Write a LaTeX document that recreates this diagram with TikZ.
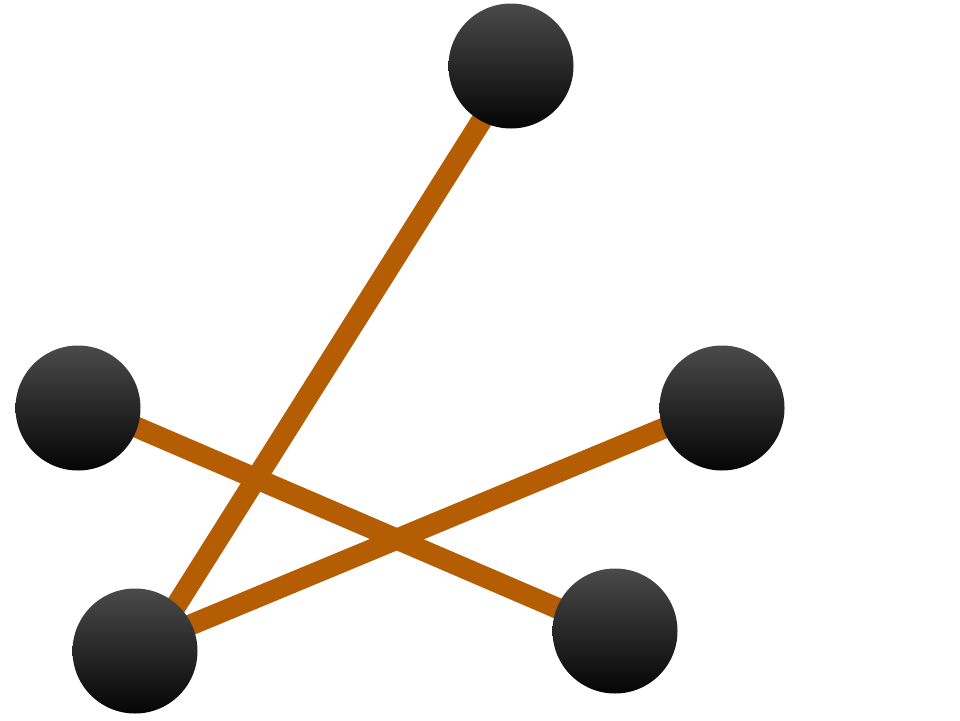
\documentclass[tikz,border=0pt]{standalone}
\usetikzlibrary{backgrounds,calc}
\definecolor{edgeorange}{RGB}{180,93,3}
\definecolor{balltop}{RGB}{74,74,74}
\definecolor{ballbot}{RGB}{5,5,5}
\begin{document}
\begin{tikzpicture}[x=1pt,y=-1pt,
  ball/.style={circle,minimum size=125pt,inner sep=0pt,top color=balltop,bottom color=ballbot,draw=none},
  link/.style={edgeorange,line width=21pt}]
\useasboundingbox (0,0) rectangle (960,720);
\node[ball] (t) at (511,66) {};
\node[ball] (l) at (78,408) {};
\node[ball] (r) at (722,408) {};
\node[ball] (br) at (615,631) {};
\node[ball] (bl) at (135,651) {};
\begin{scope}[on background layer]
\draw[link] ($(t.center)+(5,0)$) -- ($(bl.center)+(12.5,0)$);
\draw[link] ($(l.center)+(0,-6)$) -- ($(br.center)+(0,2)$);
\draw[link] ($(r.center)+(0,-4)$) -- ($(bl.center)+(0,-3)$);
\end{scope}
\end{tikzpicture}
\end{document}
